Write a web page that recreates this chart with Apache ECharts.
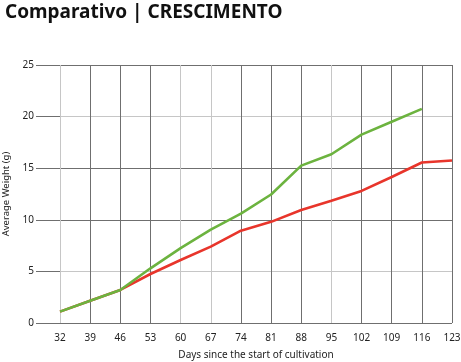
<!DOCTYPE html>
<html><head><meta charset="utf-8">
<script src="https://cdn.jsdelivr.net/npm/echarts@6/dist/echarts.min.js"></script>
<style>html,body{margin:0;padding:0;background:#fff}#c{width:461px;height:362px}</style>
</head><body><div id="c"></div>
<script>
const days = ['32','39','46','53','60','67','74','81','88','95','102','109','116','123'];
const greenSeries = [1.1, 2.15, 3.2, 5.3, 7.25, 9.05, 10.6, 12.45, 15.25, 16.35, 18.25, 19.5, 20.75, null];
const redSeries = [1.1, 2.15, 3.2, 4.75, 6.1, 7.4, 8.95, 9.8, 10.95, 11.85, 12.8, 14.15, 15.55, 15.75];
const yTicks = [0, 5, 10, 15, 20, 25];

const D = '#6f6f6f', L = '#c6c6c6';
const font = 'Noto Sans';
const chart = echarts.init(document.getElementById('c'));
chart.setOption({
  animation: false,
  textStyle: {fontFamily: font},
  title: {text: 'Comparativo | CRESCIMENTO', left: 0, top: -2,
    textStyle: {fontSize: 19, fontWeight: 'bold', color: '#111', fontFamily: font}},
  grid: {left: 60, right: 9, top: 65, bottom: 39, outerBoundsMode: 'none', containLabel: false},
  xAxis: {
    type: 'category', data: days, boundaryGap: false,
    name: 'Days since the start of cultivation', nameLocation: 'middle', nameGap: 27,
    nameTextStyle: {fontSize: 10, color: '#222'},
    axisLine: {show: false}, axisTick: {show: false},
    axisLabel: {fontSize: 10, color: '#222', margin: 10},
    splitLine: {show: true, lineStyle: {width: 1, color: [L, D, D, D, L, L, D, D, D, L, D, D, D, D]}}
  },
  yAxis: {
    type: 'value', min: yTicks[0], max: yTicks[yTicks.length - 1], interval: 5,
    name: 'Average Weight (g)', nameLocation: 'middle', nameGap: 45,
    nameTextStyle: {fontSize: 9.5, color: '#222'},
    axisLine: {show: false},
    axisTick: {show: true, length: 24, lineStyle: {color: D}},
    axisLabel: {fontSize: 10, color: '#222', margin: 26, verticalAlign: 'middle', lineHeight: 12, padding: [0, 0, 6, 0]},
    splitLine: {show: true, lineStyle: {width: 1, color: [D, L, D, D, L, D]}}
  },
  series: [
    {type: 'line', data: greenSeries, symbol: 'none', lineStyle: {color: '#6cb33f', width: 2.6}, z: 3},
    {type: 'line', data: redSeries, symbol: 'none', lineStyle: {color: '#e8352b', width: 2.6}, z: 2}
  ]
});
</script></body></html>
